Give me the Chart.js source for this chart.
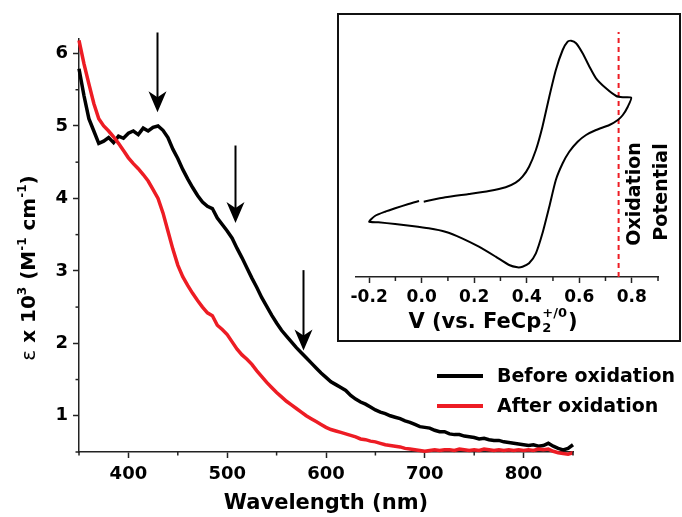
<!DOCTYPE html>
<html>
<head>
<meta charset="utf-8">
<script src="https://cdn.jsdelivr.net/npm/chart.js@4.4.1/dist/chart.umd.min.js"></script>
<style>
  html, body { margin: 0; padding: 0; background: #fff; }
  #wrap { position: relative; width: 682px; height: 517px; }
  #wrap canvas { position: absolute; left: 0; top: 0; }
</style>
</head>
<body>
<div id="wrap">
  <canvas id="mainChart" width="682" height="517"></canvas>
  <canvas id="insetChart" width="682" height="517"></canvas>
</div>
<script>
// absorption spectra (nm, epsilon x 10^3)
var wavelengths = [350,355,360,365,370,375,380,385,390,395,400,405,410,415,420,425,430,435,440,445,
  450,455,460,465,470,475,480,485,490,495,500,505,510,515,520,525,530,535,540,545,
  550,555,560,565,570,575,580,585,590,595,600,605,610,615,620,625,630,635,640,645,
  650,655,660,665,670,675,680,685,690,695,700,705,710,715,720,725,730,735,740,745,
  750,755,760,765,770,775,780,785,790,795,800,805,810,815,820,825,830,835,840,845,850];

var beforeOx = [5.79,5.42,5.10,4.93,4.76,4.79,4.84,4.77,4.86,4.83,4.90,4.93,4.88,4.97,4.93,4.98,5.00,4.94,4.84,4.68,
  4.55,4.40,4.27,4.15,4.04,3.95,3.89,3.86,3.73,3.64,3.55,3.45,3.31,3.18,3.04,2.90,2.77,2.63,2.51,2.39,
  2.28,2.18,2.10,2.02,1.94,1.87,1.80,1.73,1.66,1.59,1.53,1.47,1.43,1.39,1.35,1.28,1.23,1.19,1.16,1.12,
  1.08,1.05,1.03,1.00,0.98,0.96,0.93,0.91,0.88,0.85,0.84,0.83,0.80,0.78,0.78,0.75,0.74,0.74,0.72,0.71,
  0.70,0.68,0.69,0.67,0.66,0.66,0.64,0.63,0.62,0.61,0.60,0.59,0.60,0.58,0.59,0.62,0.58,0.55,0.53,0.55,0.60];

var afterOx = [6.18,5.86,5.58,5.31,5.10,5.00,4.93,4.85,4.76,4.66,4.56,4.48,4.41,4.33,4.24,4.12,4.00,3.80,3.55,3.30,
  3.08,2.92,2.80,2.69,2.59,2.50,2.42,2.38,2.25,2.19,2.12,2.02,1.92,1.84,1.78,1.71,1.62,1.54,1.46,1.39,
  1.32,1.26,1.20,1.15,1.10,1.05,1.00,0.96,0.92,0.88,0.84,0.81,0.79,0.77,0.75,0.73,0.71,0.68,0.67,0.65,
  0.64,0.62,0.60,0.59,0.58,0.57,0.55,0.54,0.53,0.52,0.51,0.52,0.53,0.52,0.53,0.53,0.52,0.54,0.53,0.52,
  0.53,0.52,0.54,0.53,0.52,0.53,0.52,0.53,0.52,0.53,0.52,0.53,0.52,0.54,0.53,0.54,0.51,0.49,0.48,0.47,0.49];

// tick positions of the main axes
var xTicks = [350,400,450,500,550,600,650,700,750,800,850];
var yTicks = [0.5,1,1.5,2,2.5,3,3.5,4,4.5,5,5.5,6];

// arrows marking the bands that bleach
var arrowWavelengths = [429, 508, 577];
var arrowTops = [6.29, 4.73, 3.01];
var arrowTips = [5.19, 3.66, 1.90];

// cyclic voltammogram (V vs FeCp2, current in arbitrary units)
var cvPotential = [0.008,0.090,0.180,0.256,0.320,0.358,0.384,0.409,0.435,0.460,0.486,0.511,0.537,0.556,0.569,0.588,0.613,0.639,0.664,0.702,0.741,0.766,0.798,
  0.785,0.766,0.747,0.715,0.664,0.626,0.594,0.562,0.537,0.511,0.486,0.460,0.435,0.409,0.384,0.365,0.333,0.282,0.218,0.154,0.090,0.027,-0.037,-0.101,-0.165,-0.200,
  -0.178,-0.139,-0.101,-0.050,-0.010];
var cvCurrent = [7.53,7.97,8.30,8.60,8.97,9.43,10.03,11.03,12.70,15.03,18.03,20.70,22.70,23.53,23.63,23.37,22.37,21.03,19.87,18.87,18.10,17.97,17.93,
  17.03,16.20,15.70,15.20,14.70,14.20,13.53,12.53,11.37,9.70,7.03,4.37,2.37,1.37,1.03,0.97,1.20,2.03,3.03,3.87,4.53,4.87,5.10,5.30,5.47,5.53,
  6.10,6.53,6.87,7.30,7.60];
var cvTicks = [-0.2,-0.1,0.0,0.1,0.2,0.3,0.4,0.5,0.6,0.7,0.8,0.9];
var oxidationPotential = 0.75;
var oxidationLineTop = 24.5;

Chart.defaults.font.family = "'DejaVu Sans', sans-serif";
Chart.defaults.font.weight = 'bold';
Chart.defaults.color = '#000';

function pts(xs, ys) {
  return xs.map(function (x, i) { return { x: x, y: ys[i] }; });
}
function fixedTicks(values) {
  return function (s) { s.ticks = values.map(function (v) { return { value: v }; }); };
}

// short unlabelled ticks between the labelled ones
var minorTicks = {
  id: 'minorTicks',
  afterDraw: function (chart, args, opts) {
    var ctx = chart.ctx, area = chart.chartArea;
    ctx.save();
    ctx.strokeStyle = '#222';
    ctx.lineWidth = 1.5;
    ['x', 'y'].forEach(function (id) {
      var scale = chart.scales[id];
      if (!scale || !opts[id]) return;
      scale.ticks.forEach(function (t) {
        if (!opts[id](t.value)) return;
        var p = scale.getPixelForValue(t.value);
        ctx.beginPath();
        if (id === 'x') { ctx.moveTo(p, area.bottom); ctx.lineTo(p, area.bottom + opts.length); }
        else { ctx.moveTo(area.left, p); ctx.lineTo(area.left - opts.length, p); }
        ctx.stroke();
      });
    });
    ctx.restore();
  }
};

var spectrumDecor = {
  id: 'spectrumDecor',
  afterDraw: function (chart) {
    var ctx = chart.ctx, xs = chart.scales.x, ys = chart.scales.y;
    ctx.save();
    // arrows
    ctx.fillStyle = '#000';
    ctx.strokeStyle = '#000';
    ctx.lineWidth = 2;
    for (var i = 0; i < arrowWavelengths.length; i++) {
      var ax = Math.round(xs.getPixelForValue(arrowWavelengths[i])) + 0.5;
      var top = ys.getPixelForValue(arrowTops[i]);
      var tip = ys.getPixelForValue(arrowTips[i]);
      ctx.beginPath();
      ctx.moveTo(ax, top);
      ctx.lineTo(ax, tip - 12);
      ctx.stroke();
      ctx.beginPath();
      ctx.moveTo(ax, tip);
      ctx.lineTo(ax - 9, tip - 21);
      ctx.lineTo(ax, tip - 15);
      ctx.lineTo(ax + 9, tip - 21);
      ctx.closePath();
      ctx.fill();
    }
    // y title with super scripts
    var parts = [
      { t: '\u03b5', f: "20px 'DejaVu Sans'", dy: 0 },
      { t: ' x 10', f: "bold 20px 'DejaVu Sans'", dy: 0 },
      { t: '3', f: "bold 12px 'DejaVu Sans'", dy: -9 },
      { t: ' (M', f: "bold 20px 'DejaVu Sans'", dy: 0 },
      { t: '-1', f: "bold 12px 'DejaVu Sans'", dy: -9 },
      { t: ' cm', f: "bold 20px 'DejaVu Sans'", dy: 0 },
      { t: '-1', f: "bold 12px 'DejaVu Sans'", dy: -9 },
      { t: ')', f: "bold 20px 'DejaVu Sans'", dy: 0 }
    ];
    var total = 0;
    parts.forEach(function (p) { ctx.font = p.f; p.w = ctx.measureText(p.t).width; total += p.w; });
    ctx.translate(28, 268);
    ctx.rotate(-Math.PI / 2);
    ctx.textBaseline = 'alphabetic';
    ctx.textAlign = 'left';
    var cx = -total / 2;
    parts.forEach(function (p) { ctx.font = p.f; ctx.fillText(p.t, cx, 7 + p.dy); cx += p.w; });
    ctx.setTransform(1, 0, 0, 1, 0, 0);
    // legend
    ctx.font = "bold 19px 'DejaVu Sans'";
    ctx.textBaseline = 'middle';
    chart.data.datasets.forEach(function (ds, k) {
      var ly = 376 + k * 30;
      ctx.strokeStyle = ds.borderColor;
      ctx.lineWidth = 4;
      ctx.beginPath();
      ctx.moveTo(437, ly);
      ctx.lineTo(483, ly);
      ctx.stroke();
      ctx.fillStyle = '#000';
      ctx.fillText(ds.label, 497, ly + 1);
    });
    ctx.restore();
  }
};

var mainChart = new Chart(document.getElementById('mainChart'), {
  type: 'line',
  data: {
    datasets: [{
      label: 'Before oxidation',
      data: pts(wavelengths, beforeOx),
      borderColor: '#000000',
      borderWidth: 3.5,
      pointRadius: 0,
      order: 1,
      clip: false
    }, {
      label: 'After oxidation',
      data: pts(wavelengths, afterOx),
      borderColor: '#ed1c24',
      borderWidth: 3.5,
      pointRadius: 0,
      order: 0,
      clip: false
    }]
  },
  options: {
    responsive: false,
    animation: false,
    layout: { padding: { left: 0, right: 109, top: 39, bottom: 0 } },
    plugins: {
      legend: { display: false },
      tooltip: { enabled: false },
      minorTicks: {
        x: function (v) { return v % 100 !== 0; },
        y: function (v) { return Math.abs(v % 1 - 0.5) < 1e-6; },
        length: 3.5
      }
    },
    scales: {
      x: {
        type: 'linear', min: 350, max: 850,
        afterBuildTicks: fixedTicks(xTicks),
        afterFit: function (s) { s.height = 65; },
        border: { color: '#222', width: 1.5 },
        grid: {
          drawOnChartArea: false, tickLength: 6, tickWidth: 1.5,
          tickColor: function (c) { return c.tick && c.tick.value % 100 === 0 ? '#222' : 'rgba(0,0,0,0)'; }
        },
        ticks: {
          autoSkip: false, maxRotation: 0, padding: 6,
          font: { size: 18, weight: 'bold' },
          callback: function (v) { return v % 100 === 0 ? v : ''; }
        },
        title: { display: true, text: 'Wavelength (nm)', font: { size: 21, weight: 'bold' }, padding: { top: 0, bottom: 1 } }
      },
      y: {
        min: 0.5, max: 6.2,
        afterBuildTicks: fixedTicks(yTicks),
        afterFit: function (s) { s.width = 79; },
        border: { color: '#222', width: 1.5 },
        grid: {
          drawOnChartArea: false, tickLength: 6, tickWidth: 1.5,
          tickColor: function (c) { return c.tick && Math.abs(c.tick.value % 1) < 1e-6 ? '#222' : 'rgba(0,0,0,0)'; }
        },
        ticks: {
          autoSkip: false, padding: 5,
          font: { size: 18, weight: 'bold' },
          callback: function (v) { return Math.abs(v % 1) < 1e-6 ? v : ''; }
        }
      }
    }
  },
  plugins: [minorTicks, spectrumDecor]
});

function isEvenTenth(v) {
  var t = v * 10;
  return Math.abs(t - Math.round(t)) < 1e-6 && Math.round(t) % 2 === 0;
}
function isOddTenth(v) {
  var t = v * 10;
  return Math.abs(t - Math.round(t)) < 1e-6 && Math.abs(Math.round(t) % 2) === 1;
}

var insetDecor = {
  id: 'insetDecor',
  beforeDraw: function (chart) {
    var ctx = chart.ctx;
    ctx.save();
    ctx.fillStyle = '#fff';
    ctx.fillRect(338, 14, 342, 327);
    ctx.restore();
  },
  afterDraw: function (chart) {
    var ctx = chart.ctx;
    ctx.save();
    ctx.strokeStyle = '#111';
    ctx.lineWidth = 2;
    ctx.strokeRect(338, 14, 342, 327);
    // x title with sub / super script
    var big = "bold 21px 'DejaVu Sans'", small = "bold 13px 'DejaVu Sans'";
    ctx.font = big;
    var w1 = ctx.measureText('V (vs. FeCp').width;
    var w3 = ctx.measureText(')').width;
    ctx.font = small;
    var w2 = Math.max(ctx.measureText('2').width, ctx.measureText('+/0').width) + 2;
    var sx = 493 - (w1 + w2 + w3) / 2, base = 328;
    ctx.fillStyle = '#000';
    ctx.textBaseline = 'alphabetic';
    ctx.textAlign = 'left';
    ctx.font = big;
    ctx.fillText('V (vs. FeCp', sx, base);
    ctx.font = small;
    ctx.fillText('2', sx + w1 + 1, base + 4);
    ctx.fillText('+/0', sx + w1 + 1, base - 11);
    ctx.font = big;
    ctx.fillText(')', sx + w1 + w2, base);
    // oxidation potential label
    ctx.font = "bold 19px 'DejaVu Sans'";
    ctx.textAlign = 'center';
    ctx.textBaseline = 'middle';
    [['Oxidation', 635, 194], ['Potential', 662, 192]].forEach(function (l) {
      ctx.save();
      ctx.translate(l[1], l[2]);
      ctx.rotate(-Math.PI / 2);
      ctx.fillText(l[0], 0, 0);
      ctx.restore();
    });
    ctx.restore();
  }
};

var insetChart = new Chart(document.getElementById('insetChart'), {
  type: 'scatter',
  data: {
    datasets: [{
      data: pts(cvPotential, cvCurrent),
      showLine: true,
      borderColor: '#000',
      borderWidth: 2,
      pointRadius: 0,
      tension: 0.2
    }, {
      data: [{ x: oxidationPotential, y: 0 }, { x: oxidationPotential, y: oxidationLineTop }],
      showLine: true,
      borderColor: '#ed1c24',
      borderWidth: 2,
      borderDash: [5, 4],
      pointRadius: 0
    }]
  },
  options: {
    responsive: false,
    animation: false,
    layout: { padding: { left: 356, right: 24, top: 27, bottom: 176 } },
    plugins: {
      legend: { display: false },
      tooltip: { enabled: false },
      minorTicks: { x: isOddTenth, length: 4 }
    },
    scales: {
      x: {
        type: 'linear', min: -0.25, max: 0.9,
        afterBuildTicks: fixedTicks(cvTicks),
        afterFit: function (s) { s.height = 64; },
        border: { color: '#222', width: 1.5 },
        grid: {
          drawOnChartArea: false, tickLength: 6, tickWidth: 1.5,
          tickColor: function (c) { return c.tick && isEvenTenth(c.tick.value) ? '#222' : 'rgba(0,0,0,0)'; }
        },
        ticks: {
          autoSkip: false, maxRotation: 0, padding: 4,
          font: { size: 17, weight: 'bold' },
          callback: function (v) { return isEvenTenth(v) ? v.toFixed(1) : ''; }
        }
      },
      y: { display: false, min: 0, max: 25 }
    }
  },
  plugins: [minorTicks, insetDecor]
});
</script>
</body>
</html>
